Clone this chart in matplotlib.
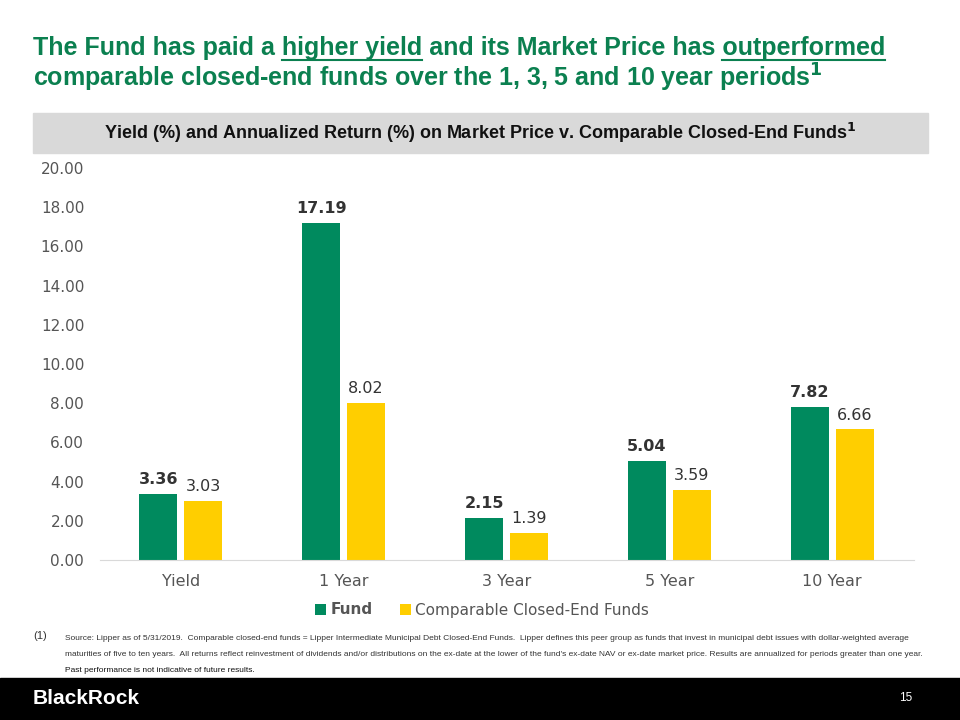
import numpy as np
import matplotlib
matplotlib.use("Agg")
import matplotlib.pyplot as plt
from matplotlib.patches import Rectangle

categories = ["Yield", "1 Year", "3 Year", "5 Year", "10 Year"]
fund = [3.36, 17.19, 2.15, 5.04, 7.82]
comparable = [3.03, 8.02, 1.39, 3.59, 6.66]
yticks = [0, 2, 4, 6, 8, 10, 12, 14, 16, 18, 20]

GREEN = "#008a5e"
TITLE_GREEN = "#0b8050"
YELLOW = "#ffce00"
NARROW = ["Liberation Sans Narrow", "Liberation Sans", "DejaVu Sans"]

fig = plt.figure(figsize=(9.6, 7.2), dpi=100)
renderer = fig.canvas.get_renderer()

# title, with underlined phrases
line1 = "The Fund has paid a higher yield and its Market Price has outperformed"
t1 = fig.text(33 / 960, 1 - 48 / 720, line1, family=NARROW, fontsize=18, fontweight="bold",
              color=TITLE_GREEN, va="center", ha="left")
fig.text(33 / 960, 1 - 78 / 720, "comparable closed-end funds over the 1, 3, 5 and 10 year periods$^{\\mathbf{1}}$",
         family=NARROW, fontsize=18, fontweight="bold", color=TITLE_GREEN, va="center", ha="left")


def text_width(s):
    tmp = fig.text(0, 0, s, family=NARROW, fontsize=18, fontweight="bold")
    w = tmp.get_window_extent(renderer).width
    tmp.remove()
    return w


for prefix, word in [("The Fund has paid a higher yield", "higher yield"), (line1, "outperformed")]:
    end = 33 + text_width(prefix)
    start = end - text_width(word)
    fig.add_artist(plt.Line2D([start / 960, end / 960], [1 - 60 / 720, 1 - 60 / 720],
                              transform=fig.transFigure, color=TITLE_GREEN, lw=1.5))

# gray band with chart title
fig.patches.append(Rectangle((33 / 960, 1 - 153 / 720), 895 / 960, 40 / 720,
                             transform=fig.transFigure, color="#d9d9d9", zorder=0))
fig.text(480 / 960, 1 - 133 / 720,
         "Yield (%) and Annualized Return (%) on Market Price v. Comparable Closed-End Funds$^{\\mathbf{1}}$",
         family=NARROW, fontsize=13, fontweight="bold", color="#111111", va="center", ha="center")

ax = fig.add_axes([99.5 / 960, 1 - 560 / 720, 814 / 960, 392 / 720])
x = np.arange(len(categories))
w = 0.233
off = 0.138
b1 = ax.bar(x - off, fund, w, color=GREEN, label="Fund")
b2 = ax.bar(x + off, comparable, w, color=YELLOW, label="Comparable Closed-End Funds")

for xi, v in zip(x, fund):
    ax.text(xi - off, v + 0.35, f"{v:.2f}", ha="center", va="bottom", fontsize=11.5,
            fontweight="bold", color="#333333")
for xi, v in zip(x, comparable):
    ax.text(xi + off, v + 0.35, f"{v:.2f}", ha="center", va="bottom", fontsize=11.5,
            color="#333333")

ax.set_xlim(-0.5, 4.5)
ax.set_ylim(0, 20)
ax.set_yticks(yticks)
ax.set_yticklabels([f"{t:.2f}" for t in yticks], fontsize=11, color="#555555")
ax.set_xticks(x)
ax.set_xticklabels(categories, fontsize=11.5, color="#555555")
ax.tick_params(length=0, axis="y", pad=11)
ax.tick_params(length=0, axis="x", pad=10)
for s in ["top", "right", "left"]:
    ax.spines[s].set_visible(False)
ax.spines["bottom"].set_color("#d9d9d9")

leg = fig.legend(handles=[b1, b2], loc="center", bbox_to_anchor=(482 / 960, 1 - 610 / 720), ncol=2,
                 frameon=False, fontsize=11, handlelength=0.7, handleheight=0.7,
                 columnspacing=1.8, handletextpad=0.3)
for t in leg.get_texts():
    t.set_color("#555555")
leg.get_texts()[0].set_fontweight("bold")

# footnote
foot_lines = [
    "Source: Lipper as of 5/31/2019.  Comparable closed-end funds = Lipper Intermediate Municipal Debt Closed-End Funds.  "
    "Lipper defines this peer group as funds that invest in municipal debt issues with dollar-weighted average",
    "maturities of five to ten years.  All returns reflect reinvestment of dividends and/or distributions on the ex-date "
    "at the lower of the fund's ex-date NAV or ex-date market price. Results are annualized for periods greater than one year.",
]
fig.text(33 / 960, 1 - 636 / 720, "(1)", family=NARROW, fontsize=8, color="#333333", va="center")
for i, s in enumerate(foot_lines):
    fig.text(65 / 960, 1 - (638 + 16.5 * i) / 720, s, family=NARROW, fontsize=6, color="#333333", va="center")
fig.text(65 / 960, 1 - 671 / 720, "Past performance is not indicative of future results.", family=NARROW,
         fontsize=6, color="#111111", va="center")

# bottom bar
fig.patches.append(Rectangle((0, 0), 1, 42 / 720, transform=fig.transFigure, color="black", zorder=0))
fig.text(33 / 960, 1 - 698 / 720, "BlackRock", family=NARROW, fontsize=15, fontweight="bold",
         color="white", va="center")
fig.text(912 / 960, 1 - 698 / 720, "15", family=NARROW, fontsize=8.5, color="white", va="center", ha="right")

fig.savefig("out.png", dpi=100)
